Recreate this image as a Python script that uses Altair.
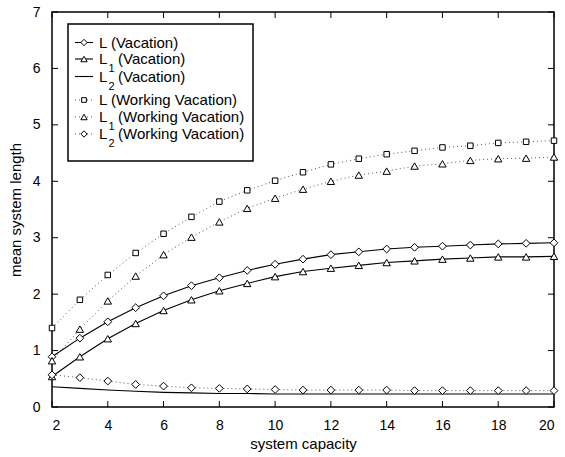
import altair as alt
import pandas as pd

capacity = list(range(2, 21))
L_vac = [0.89, 1.22, 1.51, 1.76, 1.97, 2.15, 2.29, 2.42, 2.53, 2.62, 2.70, 2.75, 2.80, 2.83, 2.85, 2.87, 2.89, 2.90, 2.91]
L1_vac = [0.54, 0.89, 1.21, 1.48, 1.71, 1.90, 2.06, 2.19, 2.31, 2.40, 2.46, 2.51, 2.56, 2.59, 2.62, 2.64, 2.66, 2.66, 2.67]
L2_vac = [0.36, 0.33, 0.30, 0.28, 0.26, 0.25, 0.24, 0.24, 0.23, 0.23, 0.23, 0.23, 0.23, 0.23, 0.23, 0.23, 0.23, 0.23, 0.23]
L_wv = [1.40, 1.90, 2.34, 2.73, 3.07, 3.37, 3.64, 3.84, 4.01, 4.16, 4.30, 4.40, 4.48, 4.54, 4.60, 4.63, 4.68, 4.70, 4.72]
L1_wv = [0.82, 1.38, 1.88, 2.32, 2.70, 3.01, 3.28, 3.52, 3.70, 3.86, 4.00, 4.11, 4.18, 4.27, 4.31, 4.37, 4.40, 4.41, 4.43]
L2_wv = [0.57, 0.52, 0.46, 0.40, 0.37, 0.34, 0.33, 0.32, 0.31, 0.30, 0.30, 0.30, 0.30, 0.29, 0.29, 0.29, 0.29, 0.29, 0.29]

x_ticks = [2, 4, 6, 8, 10, 12, 14, 16, 18, 20]
y_ticks = [0, 1, 2, 3, 4, 5, 6, 7]

W, H = 502, 395
FONT = "Liberation Sans"

# series: (name, values, dashed, shape, size)
series = [
    ("L (Vacation)", L_vac, False, "diamond", 60),
    ("L1 (Vacation)", L1_vac, False, "triangle-up", 55),
    ("L2 (Vacation)", L2_vac, False, None, 0),
    ("L (Working Vacation)", L_wv, True, "square", 30),
    ("L1 (Working Vacation)", L1_wv, True, "triangle-up", 55),
    ("L2 (Working Vacation)", L2_wv, True, "diamond", 60),
]

xs = alt.Scale(domain=[2, 20], nice=False)
ys = alt.Scale(domain=[0, 7], nice=False)
xenc = alt.X("x:Q", scale=xs, title="system capacity",
             axis=alt.Axis(values=x_ticks, format="d", ticks=False, domain=False, grid=False,
                           labelFontSize=14, titleFontSize=15, labelPadding=11,
                           titlePadding=4, labelFont=FONT, titleFont=FONT,
                           labelColor="black", titleColor="black", titleFontWeight="normal"))
yenc = alt.Y("y:Q", scale=ys, title="mean system length",
             axis=alt.Axis(values=y_ticks, format="d", ticks=False, domain=False, grid=False,
                           labelFontSize=14, titleFontSize=15, labelPadding=12,
                           titlePadding=9, labelFont=FONT, titleFont=FONT,
                           labelColor="black", titleColor="black", titleFontWeight="normal"))

layers = []
for name, vals, dashed, shape, size in series:
    df = pd.DataFrame({"x": capacity, "y": vals})
    base = alt.Chart(df)
    if dashed:
        line = base.mark_line(color="#555555", strokeWidth=1, strokeDash=[1, 3])
    else:
        line = base.mark_line(color="black", strokeWidth=1.1)
    layers.append(line.encode(x=xenc, y=yenc))
    if shape:
        layers.append(base.mark_point(shape=shape, size=size, filled=True, fill="white",
                                      stroke="black", strokeWidth=1, opacity=1)
                      .encode(x=xenc, y=yenc))

# inward ticks
xt = pd.DataFrame({"x": x_ticks})
yt = pd.DataFrame({"y": y_ticks})
tick_style = dict(color="black", strokeWidth=1)
layers.append(alt.Chart(xt).mark_rule(**tick_style).encode(x=alt.X("x:Q", scale=xs), y=alt.value(H), y2=alt.value(H - 6)))
layers.append(alt.Chart(xt).mark_rule(**tick_style).encode(x=alt.X("x:Q", scale=xs), y=alt.value(0), y2=alt.value(6)))
layers.append(alt.Chart(yt).mark_rule(**tick_style).encode(y=alt.Y("y:Q", scale=ys), x=alt.value(0), x2=alt.value(6)))
layers.append(alt.Chart(yt).mark_rule(**tick_style).encode(y=alt.Y("y:Q", scale=ys), x=alt.value(W), x2=alt.value(W - 6)))

# custom legend
one = pd.DataFrame({"k": [0]})
LX0, LY0 = 16, 12  # legend box origin relative to plot
layers.append(alt.Chart(one).mark_rect(fill="white", stroke="black", strokeWidth=1.5)
              .encode(x=alt.value(LX0), x2=alt.value(LX0 + 185), y=alt.value(LY0), y2=alt.value(LY0 + 137)))

rows = [
    ("L", "", "(Vacation)", False, "diamond", 40, 30.5),
    ("L", "1", "(Vacation)", False, "triangle-up", 40, 47),
    ("L", "2", "(Vacation)", False, None, 0, 64.5),
    ("L", "", "(Working Vacation)", True, "square", 22, 88),
    ("L", "1", "(Working Vacation)", True, "triangle-up", 40, 105),
    ("L", "2", "(Working Vacation)", True, "diamond", 40, 122),
]
for main, sub, rest, dashed, shape, size, ry in rows:
    lx1, lx2 = LX0 + 7, LX0 + 25
    if dashed:
        ln = alt.Chart(one).mark_rule(color="#555555", strokeWidth=1, strokeDash=[1, 3])
    else:
        ln = alt.Chart(one).mark_rule(color="black", strokeWidth=1.1)
    layers.append(ln.encode(x=alt.value(lx1), x2=alt.value(lx2), y=alt.value(ry)))
    if shape:
        layers.append(alt.Chart(one).mark_point(shape=shape, size=size, filled=True, fill="white",
                                                stroke="black", strokeWidth=1, opacity=1)
                      .encode(x=alt.value((lx1 + lx2) / 2), y=alt.value(ry)))
    tx = LX0 + 31
    txt_style = dict(font=FONT, fontSize=15, color="black", align="left", baseline="middle")
    if sub:
        layers.append(alt.Chart(one).mark_text(text=main, **txt_style).encode(x=alt.value(tx), y=alt.value(ry)))
        layers.append(alt.Chart(one).mark_text(text=sub, font=FONT, fontSize=11, color="black",
                                               align="left", baseline="middle")
                      .encode(x=alt.value(tx + 9.5), y=alt.value(ry + 10)))
        layers.append(alt.Chart(one).mark_text(text=rest, **txt_style).encode(x=alt.value(tx + 19), y=alt.value(ry)))
    else:
        layers.append(alt.Chart(one).mark_text(text=main + " " + rest, **txt_style).encode(x=alt.value(tx), y=alt.value(ry)))

chart = alt.layer(*layers).properties(
    width=W, height=H,
    autosize=alt.AutoSizeParams(type="none"),
    padding={"left": 52, "top": 12, "right": 11, "bottom": 50},
    background="white",
).configure_view(stroke="black", strokeWidth=1.5)

chart.save("out.html", embed_options={"renderer": "svg", "actions": False})
